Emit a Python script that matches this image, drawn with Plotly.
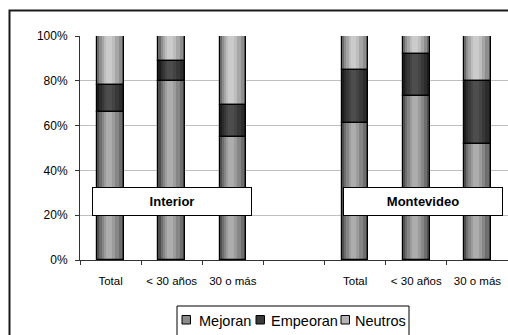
import plotly.graph_objects as go

# Survey results by region and age group (percent of respondents)
regions = ["Interior", "Montevideo"]
age_groups = ["Total", "< 30 años", "30 o más"]
series_names = ["Mejoran", "Empeoran", "Neutros"]

mejoran_interior = [66, 80, 55]
empeoran_interior = [12, 9, 14]
neutros_interior = [22, 11, 31]

mejoran_montevideo = [61, 73, 52]
empeoran_montevideo = [24, 19, 28]
neutros_montevideo = [15, 8, 20]

y_ticks = [0, 20, 40, 60, 80, 100]

# Slot positions: Interior groups at 0..2, empty slot at 3, Montevideo at 4..6
x_pos = [0, 1, 2, 4, 5, 6]
x_labels = age_groups + age_groups
mejoran = mejoran_interior + mejoran_montevideo
empeoran = empeoran_interior + empeoran_montevideo
neutros = neutros_interior + neutros_montevideo
series_values = [mejoran, empeoran, neutros]

# Shading ramps (edge -> highlight) giving each bar a cylinder look
ramps = {
    "Mejoran": ["#4e4e4e", "#6e6e6e", "#868686", "#9c9c9c", "#adadad"],
    "Empeoran": ["#1c1c1c", "#2c2c2c", "#383838", "#444444", "#4d4d4d"],
    "Neutros": ["#6a6a6a", "#8e8e8e", "#a6a6a6", "#bdbdbd", "#cbcbcb"],
}
legend_colors = {"Mejoran": "#8a8a8a", "Empeoran": "#3a3a3a", "Neutros": "#b4b4b4"}
# Horizontal extents of the shading layers, as fractions of the bar width
bands = [(0.0, 1.0), (0.08, 0.92), (0.16, 0.80), (0.25, 0.66), (0.33, 0.55)]
BAR_W = 0.433

fig = go.Figure()

bases = []
running = [0] * len(x_pos)
for vals in series_values:
    bases.append(list(running))
    running = [r + v for r, v in zip(running, vals)]

for name, vals, base in zip(series_names, series_values, bases):
    for color, (a, b) in zip(ramps[name], bands):
        fig.add_trace(go.Bar(
            x=x_pos, y=vals, base=base,
            width=BAR_W * (b - a), offset=-BAR_W / 2 + BAR_W * a,
            marker=dict(color=color, line=dict(width=0)),
            showlegend=False, hoverinfo="skip",
        ))

# Black outlines drawn over the shading
for name, vals, base in zip(series_names, series_values, bases):
    fig.add_trace(go.Bar(
        x=x_pos, y=vals, base=base, width=BAR_W, offset=-BAR_W / 2,
        marker=dict(color="rgba(0,0,0,0)", line=dict(color="#000000", width=1.2)),
        showlegend=False, name=name,
    ))

# Region labels
for text, xc in [(regions[0], 1.01), (regions[1], 5.11)]:
    fig.add_annotation(
        x=xc, y=26.3, xref="x", yref="y", text="<b>%s</b>" % text, showarrow=False,
        width=156, height=25, bgcolor="#ffffff", bordercolor="#000000",
        borderwidth=1, borderpad=1, font=dict(family="Arial", size=13, color="#000000"),
    )

# Plot-area geometry in pixels, used to place items in paper coordinates
PL, PW, PB, PH = 80, 428, 260, 224


def px_x(px):
    return (px - PL) / PW


def px_y(py):
    return (PB - py) / PH


# Outer chart frame (extends past the right and bottom edges)
fig.add_shape(type="rect", xref="paper", yref="paper",
              x0=px_x(9.5), x1=1.2, y0=-0.6, y1=px_y(10.5),
              line=dict(color="#1a1a1a", width=2), fillcolor="rgba(0,0,0,0)", layer="below")

# Compact legend box with swatches and labels
fig.add_shape(type="rect", xref="paper", yref="paper",
              x0=px_x(177), x1=px_x(409), y0=-0.6, y1=px_y(306),
              line=dict(color="#000000", width=1), fillcolor="#ffffff")
legend_swatch_x = [182, 256, 341]
legend_text_x = [196.5, 268.5, 353]
for name, sx, tx in zip(series_names, legend_swatch_x, legend_text_x):
    fig.add_shape(type="rect", xref="paper", yref="paper",
                  x0=px_x(sx), x1=px_x(sx + 8.5), y0=px_y(324), y1=px_y(315.5),
                  line=dict(color="#000000", width=1), fillcolor=legend_colors[name])
    fig.add_annotation(x=px_x(tx), y=px_y(320.5), xref="paper", yref="paper",
                       text=name, showarrow=False, xanchor="left", yanchor="middle",
                       font=dict(family="Arial", size=14.5, color="#000000"))

fig.update_layout(
    width=508, height=335,
    margin=dict(l=80, r=0, t=36, b=75),
    barmode="overlay",
    bargap=0,
    paper_bgcolor="#ffffff", plot_bgcolor="#ffffff",
    font=dict(family="Arial", color="#000000"),
    showlegend=False,
    xaxis=dict(
        range=[-0.5, 6.5], tickmode="array", tickvals=x_pos, ticktext=x_labels,
        ticks="", showgrid=False, zeroline=False,
        showline=True, linecolor="#333333", linewidth=1,
        tickfont=dict(family="Arial", size=11.5, color="#000000"),
        ticklabelstandoff=10,
        minor=dict(tickmode="array", tickvals=[-0.5, 0.5, 1.5, 2.5, 3.5, 4.5, 5.5, 6.5],
                   ticks="outside", ticklen=4, tickcolor="#333333", showgrid=False),
    ),
    yaxis=dict(
        range=[0, 100], tickmode="array", tickvals=y_ticks,
        ticktext=["%d%%" % v for v in y_ticks],
        ticks="outside", ticklen=4, tickcolor="#333333",
        showline=True, linecolor="#333333", linewidth=1,
        showgrid=True, gridcolor="#c0c0c0", gridwidth=1, zeroline=False,
        tickfont=dict(family="Arial", size=12, color="#000000"),
        ticklabelstandoff=5,
    ),
)

fig.write_html("out.html")
